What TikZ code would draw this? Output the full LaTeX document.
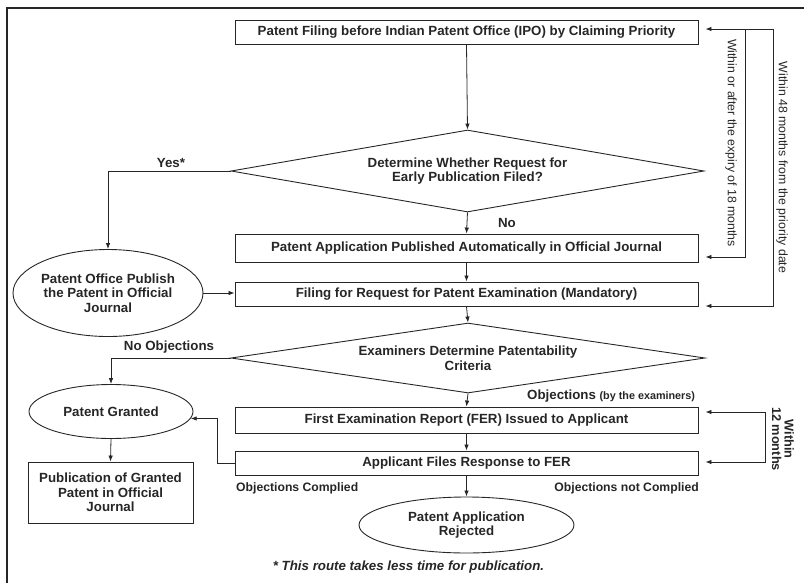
\documentclass[tikz,border=0pt]{standalone}
\usepackage{fontspec}
\setmainfont{Liberation Sans}
\usetikzlibrary{shapes.geometric,arrows.meta}
\definecolor{ink}{gray}{0.15}
\tikzset{
  every node/.style={text=ink, font=\fontsize{13.3}{14.5}\selectfont\bfseries},
  procbox/.style={draw=ink, line width=0.9pt, rectangle, minimum width=463pt, minimum height=24pt, inner sep=0pt},
  decbox/.style={draw=ink, line width=0.9pt, diamond, shape aspect=5.8, inner sep=0pt, align=center},
  termbox/.style={draw=ink, line width=0.9pt, ellipse, inner sep=0pt, align=center},
  smallbox/.style={draw=ink, line width=0.9pt, rectangle, inner sep=0pt, align=center},
  conn/.style={draw=ink, line width=0.8pt, -{Latex[length=6pt,width=4.5pt]}},
  lbl/.style={inner sep=0pt},
  sidelbl/.style={inner sep=0pt, font=\fontsize{12.3}{13.5}\selectfont, rotate=-90},
}
\begin{document}
\begin{tikzpicture}[x=1pt,y=-1pt]
\useasboundingbox (0,0) rectangle (804,582);
% frame
\draw[ink, line width=1.6pt] (7,590) -- (7,8) -- (810,8);

% main column
\node[procbox] (b1) at (466.5,32) {Patent Filing before Indian Patent Office (IPO) by Claiming Priority};
\node[decbox, minimum width=473pt, minimum height=82pt] (d1) at (467.5,171) {Determine Whether Request for\\Early Publication Filed?};
\node[procbox, minimum height=28pt] (b2) at (466.5,248) {Patent Application Published Automatically in Official Journal};
\node[procbox] (b3) at (466.5,294) {Filing for Request for Patent Examination (Mandatory)};
\node[decbox, minimum width=474pt, minimum height=70pt] (d2) at (468,358) {Examiners Determine Patentability\\Criteria};
\node[procbox, minimum height=26pt] (b4) at (466.5,420) {First Examination Report (FER) Issued to Applicant};
\node[procbox] (b5) at (466.5,463) {Applicant Files Response to FER};
\node[termbox, minimum width=215pt, minimum height=56pt] (e3) at (466.5,525) {Patent Application\\Rejected};

% left column
\node[termbox, minimum width=190pt, minimum height=87pt] (e1) at (108,293) {Patent Office Publish\\the Patent in Official\\Journal};
\node[termbox, minimum width=164pt, minimum height=54pt] (e2) at (111,411.5) {Patent Granted};
\node[smallbox, minimum width=165pt, minimum height=61pt] (pub) at (110.5,492.5) {Publication of Granted\\Patent in Official\\Journal};

% connectors main
\draw[conn] (b1.south) -- (d1.north);
\draw[conn] (d1.south) -- (b2.north);
\draw[conn] (b2.south) -- (b3.north);
\draw[conn] (b3.south) -- (d2.north);
\draw[conn] (d2.south) -- (b4.north);
\draw[conn] (b4.south) -- (b5.north);
\draw[conn] (b5.south) -- (e3.north);
\draw[conn] (d1.west) -| (e1.north);
\draw[conn] (e1.east) -- (b3.west |- e1.east);
\draw[conn] (d2.west) -| (e2.north);
\draw[conn] (e2.south) -- (pub.north);
\coordinate (bend) at (217,463);
\draw[conn] (b5.west) -- (bend) |- (e2.-5);

% labels
\node[lbl] (yes) at (171,163) {Yes*};
\node[lbl] (no) at (507,223) {No};
\node[lbl] (noobj) at (169,347) {No Objections};
\node[lbl, anchor=west] (obj) at (527,396) {Objections {\fontsize{10.8}{11}\selectfont (by the examiners)}};
\node[lbl, anchor=west, font=\fontsize{12.2}{13}\selectfont\bfseries] (objc) at (236,488) {Objections Complied};
\node[lbl, anchor=east, font=\fontsize{12.2}{13}\selectfont\bfseries] (objnc) at (699,488) {Objections not Complied};
\node[lbl, font=\fontsize{13.3}{14}\selectfont\bfseries\itshape] (foot) at (408.5,567) {* This route takes less time for publication.};

% right-side timing connectors
\coordinate (r48t) at (773,29);
\coordinate (r48b) at (773,306);
\coordinate (r18t) at (745,29);
\coordinate (r18b) at (745,257);
\coordinate (r12t) at (765,412);
\coordinate (r12b) at (765,462);
\draw[conn, {Latex[length=6pt,width=4.5pt]}-{Latex[length=6pt,width=4.5pt]}, shorten <=7pt, shorten >=7pt]
  (b1.east |- r48t) -- (r48t) -- (r48b) -- (b3.east |- r48b);
\draw[conn, shorten >=7pt] (r18t) -- (r18b) -- (b2.east |- r18b);
\draw[conn, {Latex[length=6pt,width=4.5pt]}-{Latex[length=6pt,width=4.5pt]}, shorten <=7pt, shorten >=7pt]
  (b4.east |- r12t) -- (r12t) -- (r12b) -- (b5.east |- r12b);

\node[sidelbl] (t18) at (731,143) {Within or after the expiry of 18 months};
\node[sidelbl] (t48) at (782,167.5) {Within 48 months from the priority date};
\node[sidelbl, font=\fontsize{12.8}{12.5}\selectfont\bfseries, align=center] (t12) at (783,439) {Within\\12 months};
\end{tikzpicture}
\end{document}
